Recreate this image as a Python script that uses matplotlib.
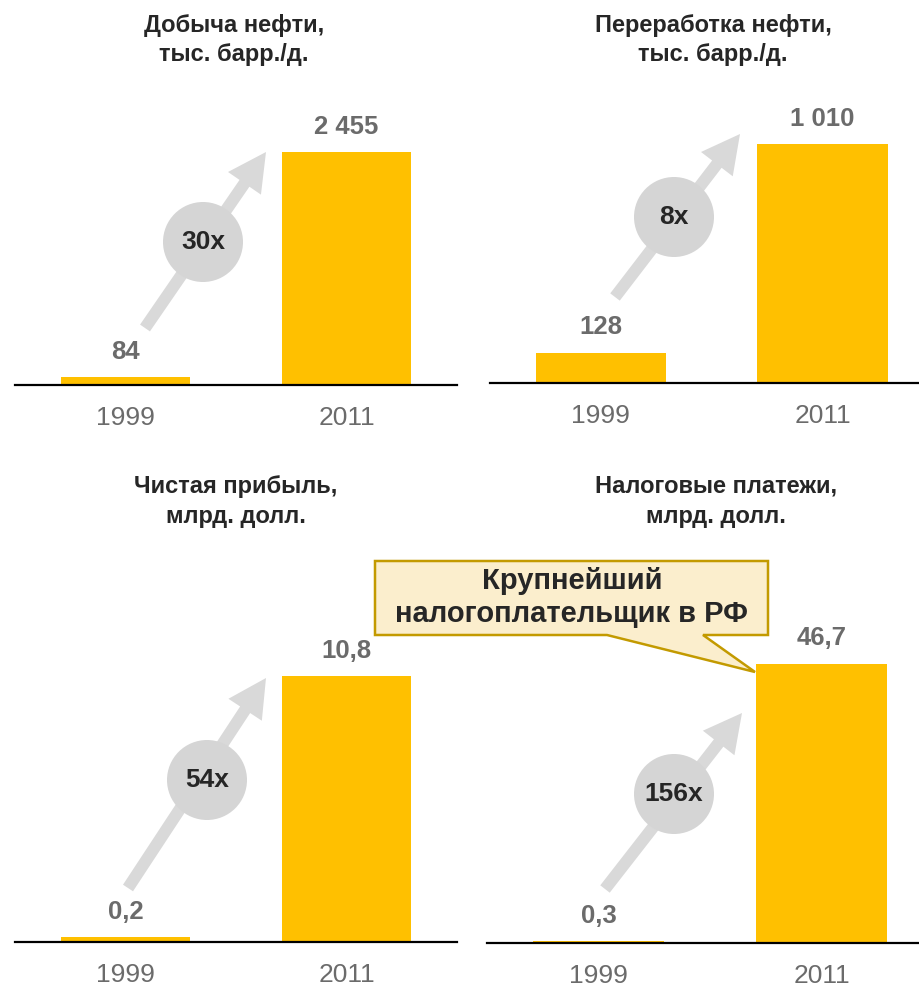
import matplotlib.pyplot as plt
from matplotlib.patches import FancyArrow, Circle, Polygon

plt.rcParams['font.family'] = ['Liberation Sans', 'DejaVu Sans']

# data
years = ['1999', '2011']
titles = [['Добыча нефти,', 'тыс. барр./д.'],
          ['Переработка нефти,', 'тыс. барр./д.'],
          ['Чистая прибыль,', 'млрд. долл.'],
          ['Налоговые платежи,', 'млрд. долл.']]
oil_production = [84, 2455]
oil_refining = [128, 1010]
net_profit = [0.2, 10.8]
tax_payments = [0.3, 46.7]
series = [oil_production, oil_refining, net_profit, tax_payments]
value_labels = [['84', '2 455'], ['128', '1 010'], ['0,2', '10,8'], ['0,3', '46,7']]
growth = ['30x', '8x', '54x', '156x']
callout_lines = ['Крупнейший', 'налогоплательщик в РФ']

BAR = '#FFC000'
GREY_TXT = '#6b6b6b'
DARK = '#262626'

W, H = 920, 986
fig = plt.figure(figsize=(W / 100, H / 100), dpi=100)

# panel layout in pixels: left, right, baseline, ymax, xmax, title x, title baseline y
panels = [
    (15, 457, 385, 3161, 1.50, 234, 32),
    (490, 920, 383, 1268, 1.44, 713, 32),
    (15, 457, 942, 12.18, 1.50, 236, 493),
    (487, 920, 943, 50.2, 1.44, 716, 493),
]

for i, (l, r, base, ymax, xmax, tx, ty) in enumerate(panels):
    ax = fig.add_axes([l / W, (H - base) / H, (r - l) / W, 300 / H])
    vals = series[i]
    ax.bar([0, 1], vals, width=0.588, color=BAR, zorder=2)
    ax.set_xlim(-0.5, xmax)
    ax.set_ylim(0, ymax)
    for s in ['top', 'right', 'left']:
        ax.spines[s].set_visible(False)
    ax.spines['bottom'].set_linewidth(1.6)
    ax.spines['bottom'].set_zorder(3)
    ax.set_yticks([])
    ax.set_xticks([0, 1], years)
    ax.tick_params(axis='x', length=0, pad=15, labelsize=19, labelcolor=GREY_TXT)
    ax.patch.set_alpha(0)
    for x, v, lab in zip([0, 1], vals, value_labels[i]):
        ax.annotate(lab, (x, v), xytext=(0, 13.3), textcoords='offset points',
                    ha='center', va='baseline', fontsize=18.5, fontweight='bold',
                    color=GREY_TXT, annotation_clip=False)
    for k, line in enumerate(titles[i]):
        fig.text(tx / W, 1 - (ty + 29.5 * k) / H, line, ha='center', va='baseline',
                 fontsize=17, fontweight='bold', color=DARK)

# overlay in pixel coordinates for arrows, circles and callout
ov = fig.add_axes([0, 0, 1, 1])
ov.set_xlim(0, W)
ov.set_ylim(H, 0)
ov.axis('off')

arrows = [
    ((145, 328), (266, 152), (203, 242)),
    ((615, 297), (740, 134), (674, 217)),
    ((128, 888), (266, 678), (207, 780)),
    ((605, 889), (742, 713), (674, 794)),
]
for (tail, tip, c), g in zip(arrows, growth):
    ov.add_patch(FancyArrow(tail[0], tail[1], tip[0] - tail[0], tip[1] - tail[1],
                            width=12, head_width=40, head_length=38,
                            length_includes_head=True, color='#d9d9d9', lw=0))
    ov.add_patch(Circle(c, 40, color='#d5d5d5', lw=0))
    ov.text(c[0], c[1], g, ha='center', va='center', fontsize=19,
            fontweight='bold', color=DARK)

callout = Polygon([(375, 561), (768, 561), (768, 635), (703, 635), (755, 672),
                   (607, 635), (375, 635)], closed=True,
                  facecolor='#FBEECD', edgecolor='#C39A00', lw=1.8, zorder=5)
ov.add_patch(callout)
for k, line in enumerate(callout_lines):
    ov.text(572, 589 + 33 * k, line, ha='center', va='baseline', fontsize=21,
            fontweight='bold', color=DARK, zorder=6)

plt.savefig('out.png', dpi=100)
